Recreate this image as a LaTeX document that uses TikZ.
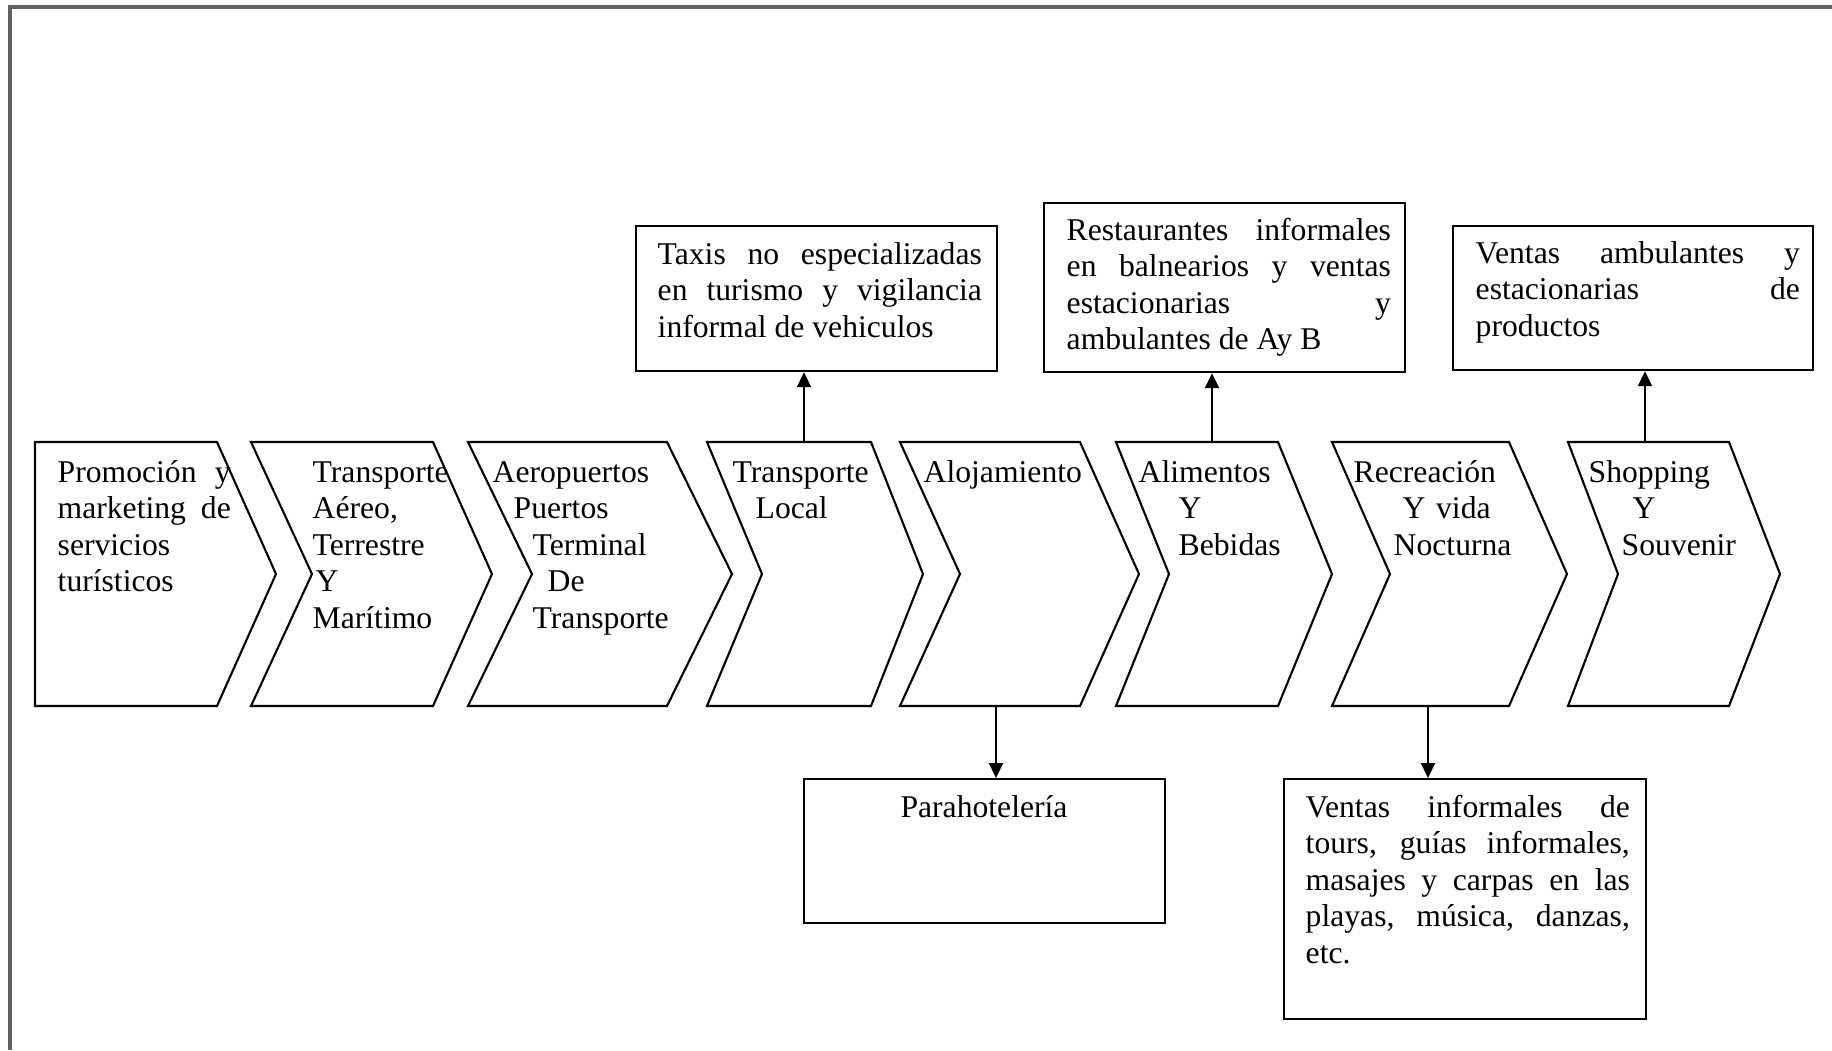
\documentclass[tikz,border=0pt]{standalone}
\usepackage{fontspec}
\setmainfont{Liberation Serif}
\usetikzlibrary{arrows.meta,positioning}
\newcommand{\diagfont}{\fontsize{9}{10.4}\selectfont\hyphenpenalty=10000
  \tolerance=10000\relax}
\tikzset{
  chev/.style={draw,line width=0.6pt,line join=miter},
  infobox/.style={rectangle,draw,line width=0.6pt,inner sep=0pt,anchor=north west},
  chevtext/.style={anchor=base west,inner sep=0pt,text width=2cm,align=left,
    font=\diagfont},
  boxtext/.style={anchor=base west,inner sep=0pt,text width=3.24cm,align=justify,
    font=\diagfont},
  arr/.style={-{Triangle[length=1.5mm,width=1.4mm]},line width=0.6pt},
  frame/.style={draw=black!62,line width=1.1pt}
}

\begin{document}
\begin{tikzpicture}[x=0.01cm,y=-0.01cm]
\useasboundingbox (0,0) rectangle (1832,1050);
\draw[frame] (10,1050) -- (10,7) -- (1832,7);
% left x, notch x, right x, tip x
\def\chevron#1#2#3#4{\draw[chev] (#1,442) -- (#3,442) -- (#4,574)
  -- (#3,706) -- (#1,706) -- (#2,574) -- cycle;}
% ---------------- value chain ----------------
\chevron{35}{35}{217}{276}
\chevron{251}{312}{433}{492}
\chevron{468}{532}{667}{732}
\chevron{707}{762}{871}{923}
\chevron{900}{960}{1080}{1139}
\chevron{1116}{1169}{1278}{1332}
\chevron{1332}{1390}{1509}{1567}
\chevron{1568}{1618}{1729}{1780}
\node[chevtext,text width=1.73cm,align=justify] (promo) at (57,482)
  {Promoción y\linebreak marketing de\linebreak servicios\\ turísticos};
\node[chevtext] (transp) at (312,482)
  {Transporte\\ Aéreo,\\ Terrestre\\ \hspace*{0.03cm}Y\\ Marítimo};
\node[chevtext] (aerop) at (492,482)
  {Aeropuertos\\ \hspace*{0.21cm}Puertos\\ \hspace*{0.40cm}Terminal\\
   \hspace*{0.55cm}De\\ \hspace*{0.40cm}Transporte};
\node[chevtext] (local) at (732,482) {Transporte\\ \hspace*{0.23cm}Local};
\node[chevtext] (aloja) at (923,482) {Alojamiento};
\node[chevtext] (alim) at (1138,482)
  {Alimentos\\ \hspace*{0.40cm}Y\\ \hspace*{0.40cm}Bebidas};
\node[chevtext] (recre) at (1353,482)
  {Recreación\\ \hspace*{0.49cm}Y vida\\ \hspace*{0.40cm}Nocturna};
\node[chevtext] (shop) at (1588,482)
  {Shopping\\ \hspace*{0.44cm}Y\\ \hspace*{0.33cm}Souvenir};
% ---------------- informal activities ----------------
\node[infobox,minimum width=3.61cm,minimum height=1.45cm] (taxis) at (635,225) {};
\node[boxtext] (taxistxt) at (657,264)
  {Taxis no especializadas\linebreak en turismo y vigilancia\linebreak informal de vehiculos};
\node[infobox,minimum width=3.61cm,minimum height=1.69cm] (ayb) at (1043,202) {};
\node[boxtext] (aybtxt) at (1066,240)
  {Restaurantes informales\linebreak en balnearios y ventas\linebreak
   estacionarias y\linebreak ambulantes de Ay~B};
\node[infobox,minimum width=3.60cm,minimum height=1.44cm] (tienda) at (1452,225) {};
\node[boxtext] (tiendatxt) at (1475,263)
  {Ventas ambulantes y\linebreak estacionarias de\linebreak productos};
\node[infobox,minimum width=3.61cm,minimum height=1.44cm] (para) at (803,778) {};
\node[anchor=base,inner sep=0pt,font=\diagfont] (paratxt) at (984,817) {Parahotelería};
\node[infobox,minimum width=3.62cm,minimum height=2.40cm] (ocio) at (1283,778) {};
\node[boxtext] (ociotxt) at (1305,817)
  {Ventas informales de\linebreak tours, guías informales,\linebreak
   masajes y carpas en las\linebreak playas, música, danzas,\linebreak etc.};
% connectors
\coordinate (localtop) at (804,442);
\coordinate (alimtop) at (1212,442);
\coordinate (shoptop) at (1645,442);
\coordinate (alojabot) at (996,706);
\coordinate (recrebot) at (1428,706);
\draw[arr] (localtop) -- (localtop |- taxis.south);
\draw[arr] (alimtop) -- (alimtop |- ayb.south);
\draw[arr] (shoptop) -- (shoptop |- tienda.south);
\draw[arr] (alojabot) -- (alojabot |- para.north);
\draw[arr] (recrebot) -- (recrebot |- ocio.north);
\end{tikzpicture}
\end{document}
